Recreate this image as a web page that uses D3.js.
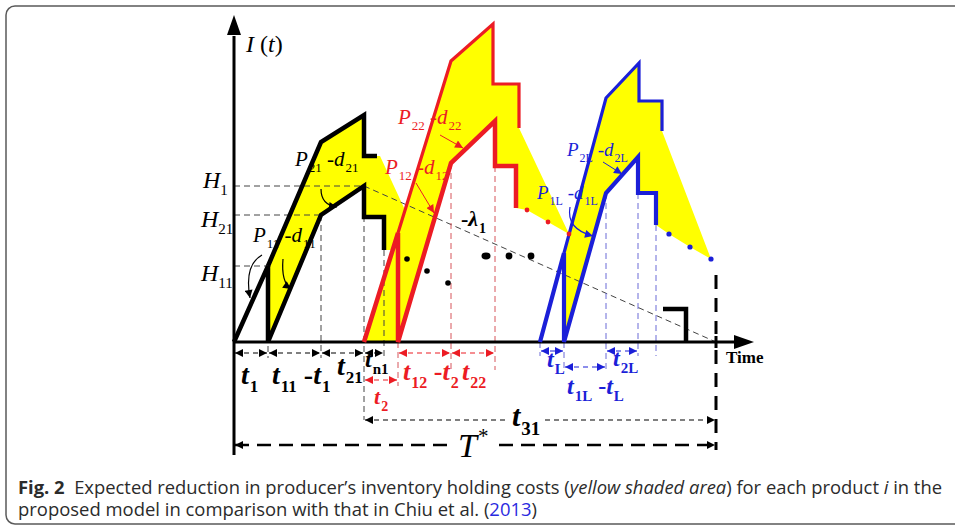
<!DOCTYPE html>
<meta charset="utf-8">
<html>
<head>
<title>Fig. 2</title>
<script src="https://d3js.org/d3.v7.min.js"></script>
<style>
html, body { margin: 0; background: #fff; }
svg text { white-space: pre; }
.cap { font-family: "Open Sans", sans-serif; font-size: 18px; fill: #2b2b2b; }
</style>
</head>
<body>
<div id="chart"></div>
<script>
// inventory profiles, [time, level] (origin = 0,0)
var blackLower = [[0,0],[34,76],[34,0],[87,127],[130,156],[130,125],[150,125],[150,92]];
var blackUpper = [[34,76],[87,200],[130,227],[130,186],[143,186]];
var redLower   = [[130,0],[164,109],[164,0],[217,179],[261,221],[261,176],[282,176],[282,134]];
var redUpper   = [[164,109],[217,281],[259,318],[259,258],[285,258],[285,214]];
var blueLower  = [[306,0],[330,89],[330,0],[372,149],[404,185],[404,149],[422,149],[422,117]];
var blueUpper  = [[330,89],[372,244],[405,279],[405,241],[428,241],[428,211]];
var tailStep   = [[429,33],[452,33],[452,0]];

// yellow shaded areas
var shadeA = [[34,0],[34,76],[87,200],[130,227],[130,186],[146,186],[171,132],[217,281],[259,318],
              [259,258],[285,258],[285,214],[335,108],[314,120],[293,132],[282,134],[282,176],[261,176],
              [261,221],[217,179],[164,0],[130,0],[159,92],[150,92],[150,125],[130,125],[130,156],[87,127]];
var shadeB = [[330,0],[330,89],[372,244],[405,279],[405,241],[428,241],[428,211],[477,83],[456,95],
              [435,108],[422,117],[422,149],[404,149],[404,185],[372,149]];

// ellipsis dots
var blackDots = [[173,83],[193,71],[214,59]];
var midDots   = [[252,86],[275,86],[297,86]];
var redDots   = [[293,132],[314,120],[335,108]];
var blueDots  = [[435,108],[456,95],[477,83]];

var lambdaLine = [[130,156],[482,0]];
var hLevels = [156, 127, 76];
var hEnds   = [130, 87, 34];

// dimension spans [from, to] on the time axis
var blackSpans = [[0,34],[34,87],[87,130],[130,150]];
var redSpans   = [[164,217],[217,261]];
var blueSpans  = [[306,330],[372,404]];
var blueMid    = [330,372];
var redT2      = [130,164];
var t31Span    = [130,482];
var cycleSpan  = [0,482];

var W = 955, H = 526;
var x = d3.scaleLinear().domain([0, 482]).range([234, 716]);
var y = d3.scaleLinear().domain([0, 327]).range([342, 15]);

var RED = "#ec1c24", BLUE = "#1b1fd8", YEL = "#ffff00";
var serif = '"Liberation Serif", "DejaVu Serif", serif';

var svg = d3.select("#chart").append("svg").attr("width", W).attr("height", H);

// frame
svg.append("rect").attr("x", 6).attr("y", 6).attr("width", 970).attr("height", 518)
  .attr("rx", 9).attr("fill", "none").attr("stroke", "#5a5a5a").attr("stroke-width", 1.5);

var defs = svg.append("defs");
[["k", "#000"], ["r", RED], ["b", BLUE]].forEach(function(m) {
  defs.append("marker").attr("id", "ah-" + m[0])
    .attr("viewBox", "0 0 10 10").attr("refX", 10).attr("refY", 5)
    .attr("markerWidth", 9).attr("markerHeight", 8).attr("markerUnits", "userSpaceOnUse")
    .attr("orient", "auto-start-reverse")
    .append("path").attr("d", "M0,0L10,5L0,10z").attr("fill", m[1]);
});

var line = d3.line().x(function(d) { return x(d[0]); }).y(function(d) { return y(d[1]); });

// yellow areas
[shadeA, shadeB].forEach(function(s) {
  svg.append("path").datum(s).attr("d", line.curve(d3.curveLinearClosed)).attr("fill", YEL);
});
line.curve(d3.curveLinear);

function dashed(pts, color, w, dash) {
  svg.append("path").datum(pts).attr("d", line).attr("fill", "none")
    .attr("stroke", color).attr("stroke-width", w || 1).attr("stroke-dasharray", dash || "6,4");
}

// level guides
hLevels.forEach(function(h, i) { dashed([[0, h], [hEnds[i], h]], "#444"); });
dashed(lambdaLine, "#444");

// vertical guides
dashed([[34, 76], [34, -16]], "#444");
dashed([[87, 127], [87, -16]], "#444");
dashed([[130, 156], [130, -78]], "#444");
dashed([[150, 92], [150, -18]], "#444");
dashed([[164, 0], [164, -44]], "#d6545a");
dashed([[217, 179], [217, -28]], "#d6545a");
dashed([[261, 176], [261, -28]], "#d6545a");
dashed([[306, 0], [306, -14]], "#6a6ad6");
dashed([[330, 0], [330, -28]], "#6a6ad6");
dashed([[372, 149], [372, -28]], "#6a6ad6");
dashed([[404, 149], [404, -14]], "#6a6ad6");
dashed([[422, 117], [422, -14]], "#6a6ad6");
dashed([[482, 67], [482, 8]], "#000", 3, "14,9");
dashed([[482, -8], [482, -108]], "#000", 3, "14,9");
svg.append("line").attr("x1", x(482)).attr("x2", x(482)).attr("y1", y(6)).attr("y2", y(-6))
  .attr("stroke", "#000").attr("stroke-width", 3);

// dimension arrows
function span(s, lvl, color, mk, w, dash) {
  svg.append("line").attr("x1", x(s[0]) + 1).attr("x2", x(s[1]) - 1)
    .attr("y1", y(lvl)).attr("y2", y(lvl))
    .attr("stroke", color).attr("stroke-width", w || 1.2).attr("stroke-dasharray", dash || "5,4")
    .attr("marker-start", "url(#ah-" + mk + ")").attr("marker-end", "url(#ah-" + mk + ")");
}
blackSpans.forEach(function(s) { span(s, -11, "#000", "k"); });
redSpans.forEach(function(s) { span(s, -11, RED, "r"); });
blueSpans.forEach(function(s) { span(s, -9, BLUE, "b"); });
span(blueMid, -25, BLUE, "b");
span(redT2, -38, RED, "r");
span(t31Span, -78, "#000", "k");
span(cycleSpan, -103, "#000", "k", 2.4, "14,8");

// axes
svg.append("line").attr("x1", x(0)).attr("x2", x(0)).attr("y1", y(-113)).attr("y2", y(306))
  .attr("stroke", "#000").attr("stroke-width", 3);
svg.append("path").attr("d", "M" + x(0) + "," + y(327) + "l-7,20l14,0z").attr("fill", "#000");
svg.append("line").attr("x1", x(0)).attr("x2", x(502)).attr("y1", y(0)).attr("y2", y(0))
  .attr("stroke", "#000").attr("stroke-width", 3);
svg.append("path").attr("d", "M" + x(520) + "," + y(0) + "l-20,-7l0,14z").attr("fill", "#000");

// profiles
function solid(pts, color, w) {
  svg.append("path").datum(pts).attr("d", line).attr("fill", "none")
    .attr("stroke", color).attr("stroke-width", w).attr("stroke-linejoin", "miter");
}
solid(blackLower, "#000", 4.5);
solid(blackUpper, "#000", 4.5);
solid(redLower, RED, 4.5);
solid(redUpper, RED, 3.2);
solid(blueLower, BLUE, 4.2);
solid(blueUpper, BLUE, 3.2);
solid(tailStep, "#000", 4.5);

function dots(data, color, r) {
  svg.selectAll(null).data(data).enter().append("circle")
    .attr("cx", function(d) { return x(d[0]); }).attr("cy", function(d) { return y(d[1]); })
    .attr("r", r).attr("fill", color);
}
dots(blackDots, "#000", 2.8);
svg.selectAll(null).data(midDots).enter().append("ellipse")
  .attr("cx", function(d) { return x(d[0]); }).attr("cy", function(d) { return y(d[1]); })
  .attr("rx", function(d, i) { return i === 0 ? 4.5 : 3.4; }).attr("ry", 3.4).attr("fill", "#000");
dots(redDots, RED, 2.4);
dots(blueDots, BLUE, 2.6);

// pointer arrows
function pointer(d, color, w) {
  svg.append("path").attr("d", d).attr("fill", "none").attr("stroke", color)
    .attr("stroke-width", w || 1.2).attr("marker-end", "url(#ah-" + (color === RED ? "r" : color === BLUE ? "b" : "k") + ")");
}
pointer("M262,255Q244,265 250,298", "#000");
pointer("M283,259Q281,282 291,289", "#000");
pointer("M321,189Q321,205 337,207", "#000");
pointer("M440,135L463,148", RED, 1);
pointer("M416,183L434,213", RED, 1);
pointer("M603,162L622,174", BLUE, 1);
pointer("M570,207Q566,229 593,236", BLUE);

// math labels
function mlabel(x0, y0, parts, size, color, bold, subDx) {
  var t = svg.append("text").attr("x", x0).attr("y", y0).attr("fill", color || "#000")
    .style("font-family", serif).style("font-size", size + "px")
    .style("font-weight", bold ? "bold" : "normal");
  var shift = 0;
  parts.forEach(function(p) {
    var ts = t.append("tspan").text(p[0]);
    var target = p[1] === "s" ? Math.round(size * 0.3) : (p[1] === "u" ? -Math.round(size * 0.4) : 0);
    ts.attr("dy", target - shift);
    shift = target;
    if (p[1] === "s" || p[1] === "u") ts.attr("dx", subDx == null ? 1 : subDx).style("font-size", Math.round(size * 0.62) + "px").style("font-style", "normal");
    else ts.style("font-style", p[1] === "i" ? "italic" : "normal");
  });
  return t;
}

// white gap behind a label sitting on a dashed line
function knockout(t, pad) {
  var b = t.node().getBBox();
  svg.insert("rect", function() { return t.node(); })
    .attr("x", b.x - pad).attr("y", b.y + 4).attr("width", b.width + 2 * pad).attr("height", b.height - 8)
    .attr("fill", "#fff");
}

mlabel(246, 52, [["I", "i"], [" (", "r"], ["t", "i"], [")", "r"]], 24);
mlabel(203, 188, [["H", "i"], ["1", "s"]], 24, "#000", false, 0);
mlabel(201, 227, [["H", "i"], ["21", "s"]], 24, "#000", false, 0);
mlabel(201, 281, [["H", "i"], ["11", "s"]], 24, "#000", false, 0);

mlabel(253, 242, [["P", "i"], ["11", "s"], [" -", "r"], ["d", "i"], ["11", "s"]], 21);
mlabel(295, 166, [["P", "i"], ["21", "s"], [" -", "r"], ["d", "i"], ["21", "s"]], 21);
mlabel(398, 124, [["P", "i"], ["22", "s"], [" -", "r"], ["d", "i"], ["22", "s"]], 21, RED);
mlabel(385, 174, [["P", "i"], ["12", "s"], [" -", "r"], ["d", "i"], ["12", "s"]], 21, RED);
mlabel(567, 156, [["P", "i"], ["2L", "s"], [" -", "r"], ["d", "i"], ["2L", "s"]], 19, BLUE);
mlabel(537, 199, [["P", "i"], ["1L", "s"], [" -", "r"], ["d", "i"], ["1L", "s"]], 19, BLUE);
mlabel(461, 226, [["-", "r"], ["λ", "i"], ["1", "s"]], 22, "#000", true);

mlabel(726, 363, [["Time", "r"]], 17, "#000", true);

mlabel(241, 384, [["t", "i"], ["1", "s"]], 28, "#000", true);
mlabel(272, 384, [["t", "i"], ["11", "s"], [" -", "r"], ["t", "i"], ["1", "s"]], 28, "#000", true);
mlabel(337, 375, [["t", "i"], ["21", "s"]], 28, "#000", true);
mlabel(365, 367, [["t", "i"], ["n1", "s"]], 24, "#000", true);
mlabel(403, 380, [["t", "i"], ["12", "s"], [" -", "r"], ["t", "i"], ["2", "s"]], 26, RED, true);
mlabel(462, 380, [["t", "i"], ["22", "s"]], 26, RED, true);
mlabel(374, 404, [["t", "i"], ["2", "s"]], 22, RED, true);
mlabel(547, 367, [["t", "i"], ["L", "s"]], 24, BLUE, true);
mlabel(613, 366, [["t", "i"], ["2L", "s"]], 24, BLUE, true);
mlabel(567, 394, [["t", "i"], ["1L", "s"], [" -", "r"], ["t", "i"], ["L", "s"]], 24, BLUE, true);
knockout(mlabel(512, 426, [["t", "i"], ["31", "s"]], 30, "#000", true), 4);
knockout(mlabel(458, 457, [["T", "i"], ["*", "u"]], 34, "#000", false), 5);

// caption
var c1 = svg.append("text").attr("class", "cap").attr("x", 18).attr("y", 494)
  .attr("textLength", 924).attr("lengthAdjust", "spacingAndGlyphs");
c1.append("tspan").style("font-weight", "bold").text("Fig. 2");
c1.append("tspan").text("  Expected reduction in producer\u2019s inventory holding costs (");
c1.append("tspan").style("font-style", "italic").text("yellow shaded area");
c1.append("tspan").text(") for each product ");
c1.append("tspan").style("font-style", "italic").text("i");
c1.append("tspan").text(" in the");

var c2 = svg.append("text").attr("class", "cap").attr("x", 18).attr("y", 516)
  .attr("textLength", 519).attr("lengthAdjust", "spacingAndGlyphs");
c2.append("tspan").text("proposed model in comparison with that in Chiu et al. (");
c2.append("tspan").style("fill", "#2a2ae0").text("2013");
c2.append("tspan").text(")");
</script>
</body>
</html>
